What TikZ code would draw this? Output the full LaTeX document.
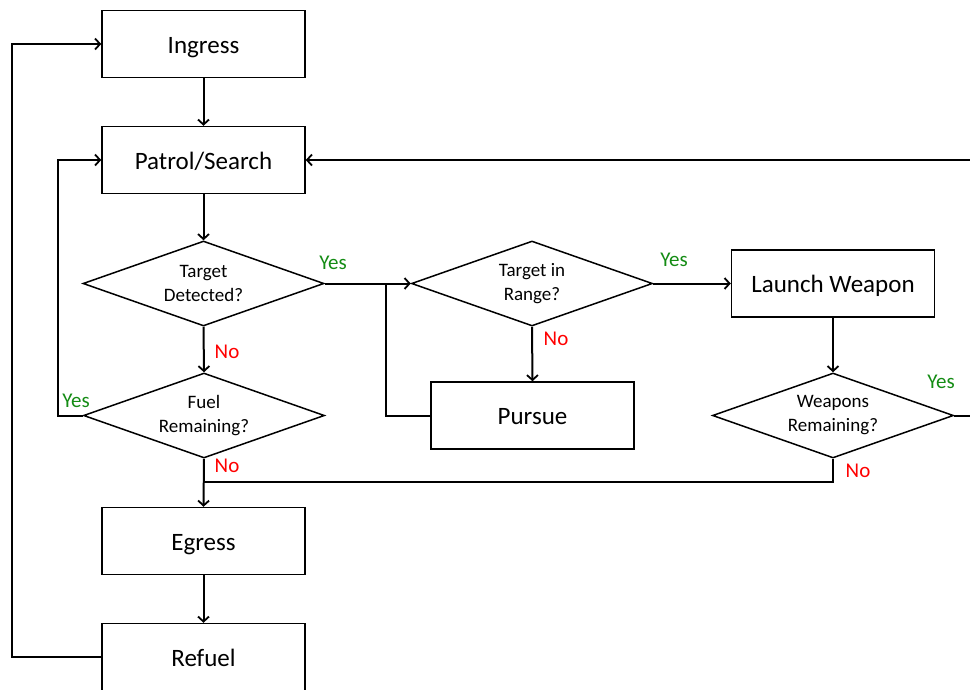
\documentclass[tikz,border=0pt]{standalone}
\usepackage{fontspec}
\setmainfont{Carlito}
\usetikzlibrary{shapes.geometric,arrows.meta}
\definecolor{yesgreen}{RGB}{20,140,20}
\tikzset{
  box/.style={draw, line width=1.5pt, minimum width=203pt, minimum height=67pt, inner sep=0pt, text height=22pt, text depth=4pt, font=\fontsize{25}{30}\selectfont},
  dec/.style={draw, diamond, aspect=2.835, line width=1.5pt, minimum width=241pt, minimum height=85pt, inner sep=0pt, align=center, font=\fontsize{19}{24}\selectfont},
  conn/.style={line width=2pt},
  arr/.style={line width=2pt, -{Straight Barb[length=5pt,width=11pt,line width=1.8pt]}},
  yes/.style={text=yesgreen, font=\fontsize{21}{24}\selectfont, inner sep=0pt},
  no/.style={text=red, font=\fontsize{21}{24}\selectfont, inner sep=0pt}
}
\begin{document}
\begin{tikzpicture}[x=1pt,y=-1pt]
\useasboundingbox (0,0) rectangle (970,689);
\clip (0,0) rectangle (970,689);
\fill[white] (0,0) rectangle (970,689);
% nodes
\node[box] (ig) at (203.5,44) {Ingress};
\node[box] (ps) at (203.5,160) {Patrol/Search};
\node[dec] (td) at (203.5,283.5) {Target\\Detected?};
\node[dec] (fr) at (204,415.5) {Fuel\\Remaining?};
\node[box] (eg) at (203.5,541) {Egress};
\node[box] (rf) at (203.5,657) {Refuel};
\node[dec] (tr) at (532,283.5) {Target in\\Range?};
\node[box] (pu) at (532.5,415.5) {Pursue};
\node[box] (lw) at (833,283.5) {Launch Weapon};
\node[dec] (wr) at (833,415.5) {Weapons\\Remaining?};
% coordinates
\coordinate (jn) at (386,283.5);
\coordinate (lf) at (58,415.5);
\coordinate (ll) at (12,657);
\coordinate (rt) at (995,415.5);
\coordinate (j2) at (204,482);
% connectors
\draw[arr] (ig) -- (ps);
\draw[arr] (ps) -- (td);
\draw[arr] (td.east) -- (tr.west);
\draw[conn] (pu.west) -| (jn);
\draw[arr] (td.south) -- (fr.north);
\draw[arr] (fr.west) -- (lf) |- (ps.west);
\draw[arr] (fr.south) -- (eg.north);
\draw[conn] (wr.south) |- (j2);
\draw[arr] (tr.east) -- (lw.west);
\draw[arr] (tr.south) -- (pu.north);
\draw[arr] (lw.south) -- (wr.north);
\draw[arr] (wr.east) -- (rt) |- (ps.east);
\draw[arr] (eg) -- (rf);
\draw[arr] (rf.west) -- (ll) |- (ig.west);
% labels
\node[yes] (y1) at (333,263) {Yes};
\node[no] (n1) at (227,352) {No};
\node[yes] (y2) at (76,401) {Yes};
\node[no] (n2) at (227,466) {No};
\node[yes] (y3) at (674,260) {Yes};
\node[no] (n3) at (556,339) {No};
\node[yes] (y4) at (941,382) {Yes};
\node[no] (n4) at (858,471) {No};
\end{tikzpicture}
\end{document}
